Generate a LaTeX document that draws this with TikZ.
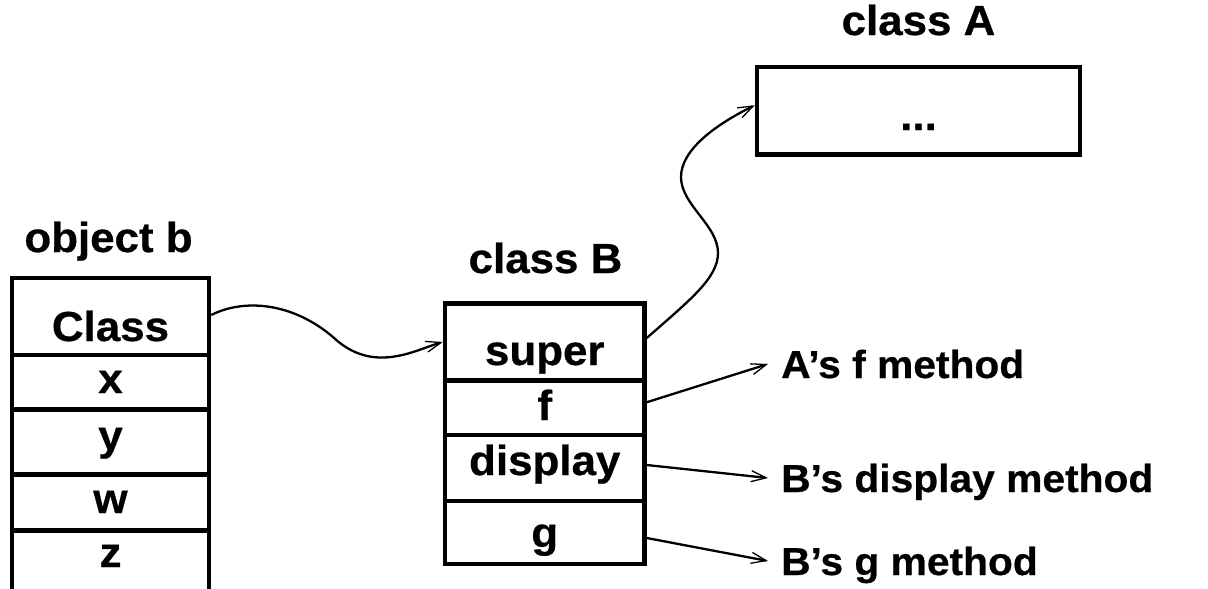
\documentclass[tikz,border=0pt]{standalone}
\usepackage{fontspec}
\setmainfont{Liberation Sans}[FakeStretch=1.045,FakeBold=0.6]
\usetikzlibrary{arrows.meta}
\tikzset{
  cellbox/.style={draw, line width=4.5pt, inner sep=0pt},
  boxtext/.style={anchor=base, inner sep=0pt, font=\bfseries\fontsize{42}{48}\selectfont},
  methtext/.style={anchor=base west, inner sep=0pt, text height=28pt, text depth=0pt, font=\bfseries\fontsize{39}{44}\selectfont},
  conn/.style={line width=2.3pt, -{Straight Barb[length=15pt,width=11pt,line width=1.3pt]}},
}
\begin{document}
\begin{tikzpicture}[x=1pt,y=-1pt]
\useasboundingbox (0,0) rectangle (1208,589);
% object b
\node[cellbox, minimum width=197pt, minimum height=77pt]   (bClass) at (110.5,316.5) {};
\node[cellbox, minimum width=197pt, minimum height=54.5pt] (bx) at (110.5,382.25) {};
\node[cellbox, minimum width=197pt, minimum height=65pt]   (by) at (110.5,442) {};
\node[cellbox, minimum width=197pt, minimum height=56pt]   (bw) at (110.5,502.5) {};
\node[cellbox, minimum width=197pt, minimum height=69.5pt] (bz) at (110.5,565.25) {};
% class B
\node[cellbox, minimum width=199.5pt, minimum height=77pt]   (Bsuper) at (544.75,342) {};
\node[cellbox, minimum width=199.5pt, minimum height=54.5pt] (Bf) at (544.75,407.75) {};
\node[cellbox, minimum width=199.5pt, minimum height=66pt]   (Bdisplay) at (544.75,468) {};
\node[cellbox, minimum width=199.5pt, minimum height=63pt]   (Bg) at (544.75,532.5) {};
% class A
\node[cellbox, minimum width=323pt, minimum height=87.5pt] (A) at (918.5,110.75) {};
% titles
\node[boxtext] (tobj) at (108.5,252) {object b};
\node[boxtext] (tclB) at (545.5,273) {class B};
\node[boxtext] (tclA) at (918.5,35) {class A};
% cell texts
\node[boxtext] (tClass) at (110.5,341) {Class};
\node[boxtext] (tx) at (110.5,393) {x};
\node[boxtext] (ty) at (110.5,450) {y};
\node[boxtext] (tw) at (110.5,513) {w};
\node[boxtext] (tz) at (110.5,567) {z};
\node[boxtext] (tsuper) at (544.75,365) {super};
\node[boxtext] (tf) at (544.75,420) {f};
\node[boxtext] (tdisplay) at (544.75,475) {display};
\node[boxtext] (tg) at (544.75,547) {g};
\node[boxtext] (tdots) at (918.5,130) {...};
% method labels
\node[methtext] (mAf) at (781,378) {A’s f method};
\node[methtext] (mBd) at (781,492) {B’s display method};
\node[methtext] (mBg) at (781,575) {B’s g method};
% connectors
\draw[conn] ([yshift=1.5pt]bClass.east) .. controls (245,298) and (293,303) .. (333,337)
  .. controls (373,375) and (415,350) .. (Bsuper.west);
\draw[conn] ([yshift=4pt]Bsuper.east) .. controls (690,300) and (718,278) .. (718,253)
  .. controls (718,225) and (681,205) .. (681,177)
  .. controls (681,150) and (715,125) .. ([yshift=5.5pt]A.west);
\draw[conn] ([yshift=5.5pt]Bf.east) -- ([xshift=-13pt]mAf.west);
\draw[conn] ([yshift=3pt]Bdisplay.east) -- ([xshift=-13pt]mBd.west);
\draw[conn] ([yshift=-5.5pt]Bg.east) -- ([xshift=-13pt]mBg.west);
\end{tikzpicture}
\end{document}
